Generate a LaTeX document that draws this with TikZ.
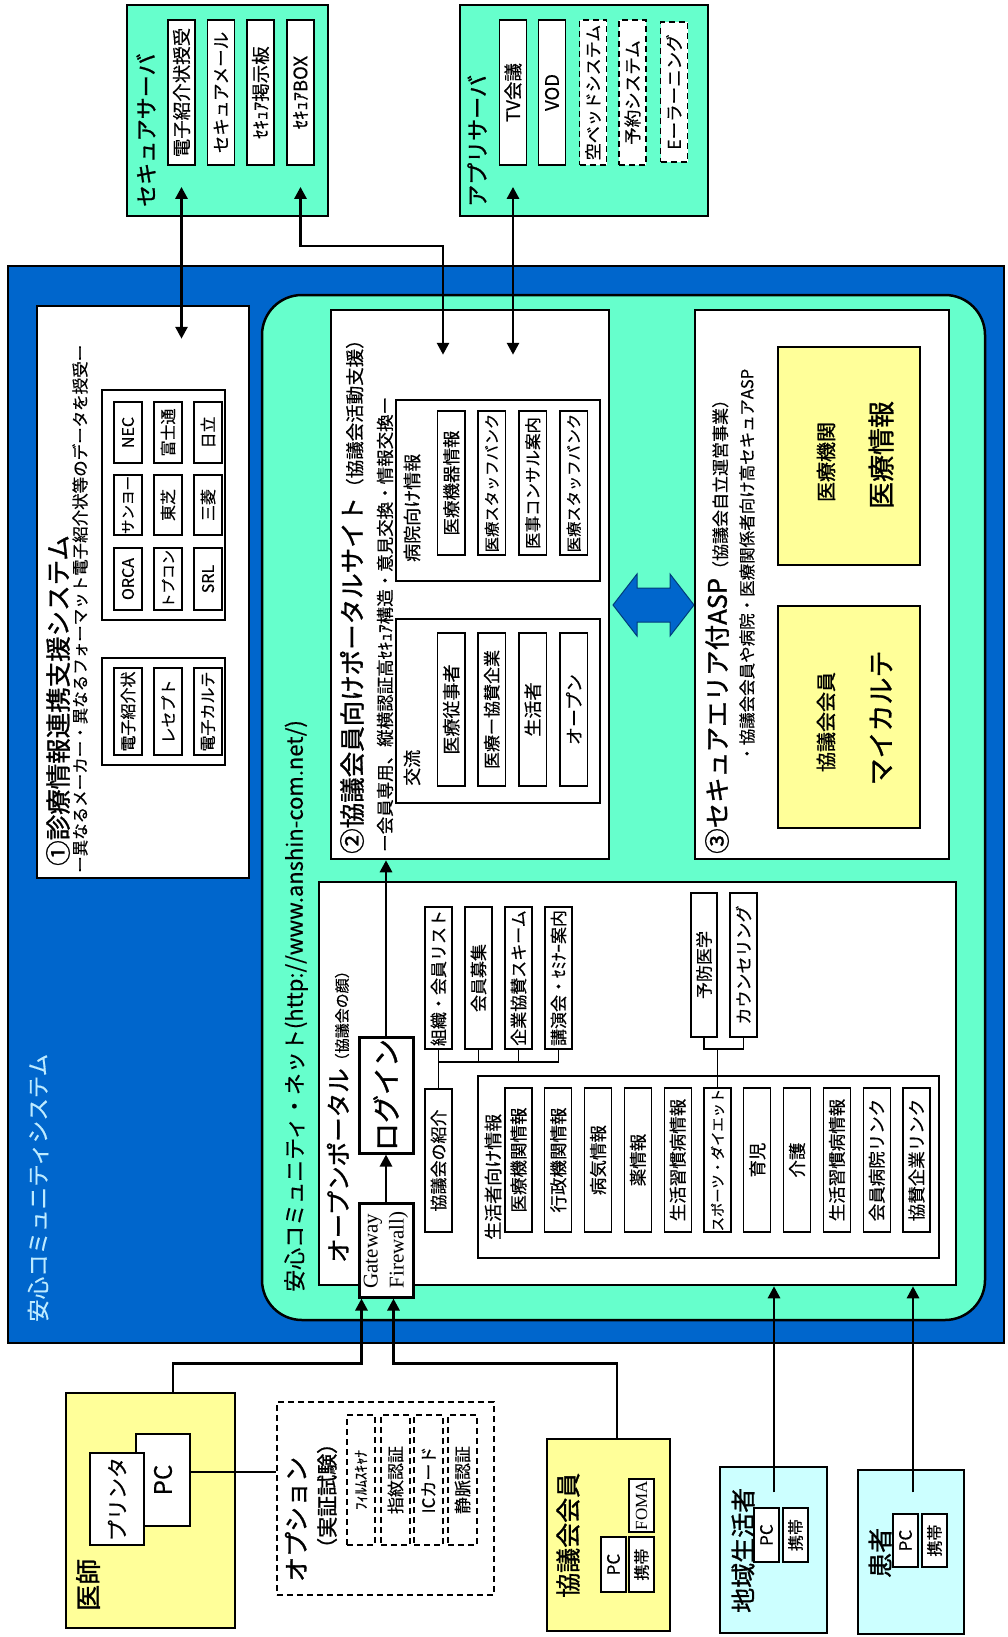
\documentclass[tikz,border=0pt]{standalone}
\usepackage{fontspec}
\setmainfont{Noto Sans CJK JP}[FakeBold=0.4]
\newfontfamily\hvy{Noto Sans CJK JP}[FakeBold=1.2]
\newfontfamily\serifrm{Liberation Serif}
\usetikzlibrary{arrows.meta,calc,fit}
\definecolor{aqua}{RGB}{102,255,204}
\definecolor{sysblue}{RGB}{0,102,204}
\definecolor{ylw}{RGB}{255,255,153}
\definecolor{lcyan}{RGB}{204,255,255}
\definecolor{titlecol}{RGB}{190,235,255}
\newcommand{\fs}[1]{\fontsize{#1}{#1}\selectfont}
% box node + rotated text node at its centre
\newcommand{\bx}[5]{\node[#1,fit={#3}] (#2) {}; \node[rotate=90,inner sep=0pt,font=\fs{#4}] (#2t) at (#2.center) {#5};}
\tikzset{
  bigbox/.style={draw=black,line width=2.5pt,inner sep=0pt},
  ibox/.style={draw=black,line width=1.8pt,fill=white,inner sep=0pt},
  tbox/.style={draw=black,line width=1.3pt,fill=white,inner sep=0pt},
  dbox/.style={draw=black,line width=1.5pt,dash pattern=on 6pt off 4pt,fill=white,inner sep=0pt},
  lbl/.style={inner sep=0pt,rotate=90,anchor=west},
  rtxt/.style={inner sep=0pt,rotate=90},
  arr/.style={line width=2.8pt,-{Triangle[length=12pt,width=12pt]}},
  darr/.style={line width=2.8pt,{Triangle[length=12pt,width=12pt]}-{Triangle[length=12pt,width=12pt]}},
  conn/.style={line width=1.3pt},
}
\begin{document}
\begin{tikzpicture}[x=1pt,y=-1pt]
\useasboundingbox (0,0) rectangle (1007,1637);

% ---------- servers ----------
\node[bigbox,fill=aqua,fit={(127,5)(328,216)}] (sec) {};
\node[lbl,font=\hvy\fs{22}] (secl) at (146,207) {セキュアサーバ};
\bx{ibox}{s1}{(168,20)(195,165)}{18.5}{電子紹介状授受}
\bx{ibox}{s2}{(207.5,20)(234.5,165)}{17.5}{セキュアメール}
\bx{ibox}{s3}{(247,20)(274,165)}{18.5}{ｾｷｭｱ掲示板}
\bx{ibox}{s4}{(287,20)(314,165)}{18.5}{ｾｷｭｱBOX}

\node[bigbox,fill=aqua,fit={(460,5)(708,216)}] (app) {};
\node[lbl,font=\hvy\fs{22}] (appl) at (477,207) {アプリサーバ};
\bx{ibox}{p1}{(499.5,20)(526.5,165)}{18.5}{TV会議}
\bx{ibox}{p2}{(538.5,20)(565.5,165)}{18.5}{VOD}
\bx{dbox}{p3}{(579.5,20)(606.5,165)}{17}{空ベッドシステム}
\bx{dbox}{p4}{(619,20)(646,165)}{17.5}{予約システム}
\bx{dbox}{p5}{(660.5,22)(687.5,162)}{17.5}{Eーラーニング}

% ---------- system ----------
\node[bigbox,fill=sysblue,fit={(8,266)(1004,1343)}] (sys) {};
\node[lbl,font=\fs{22.5},text=titlecol] (sysl) at (38,1322) {安心コミュニティシステム};

% box 1
\node[bigbox,fill=white,fit={(37,306)(249,878)}] (b1) {};
\node[lbl,font=\hvy\fs{25.5}] (b1t) at (58,866) {①診療情報連携支援システム};
\node[lbl,font=\fs{16.5}] (b1s) at (80,873) {ー異なるメーカー・異なるフォーマット電子紹介状等のデータを授受ー};
\node[tbox,fit={(102,658)(225,765)}] (ga) {};
\bx{ibox}{a1}{(114,668)(142,755)}{16}{電子紹介状}
\bx{ibox}{a2}{(154,668)(182,755)}{16}{レセプト}
\bx{ibox}{a3}{(194,668)(222,755)}{16}{電子カルテ}
\node[tbox,fit={(102,390)(225,620)}] (gb) {};
\bx{ibox}{m1}{(114,548)(142,610)}{16}{ORCA}
\bx{ibox}{m2}{(114,475)(142,535)}{14.5}{サンヨー}
\bx{ibox}{m3}{(114,402)(142,463)}{16}{NEC}
\bx{ibox}{m4}{(154,548)(182,610)}{14.5}{トプコン}
\bx{ibox}{m5}{(154,475)(182,535)}{16}{東芝}
\bx{ibox}{m6}{(154,402)(182,463)}{16}{富士通}
\bx{ibox}{m7}{(194,548)(222,610)}{16}{SRL}
\bx{ibox}{m8}{(194,475)(222,535)}{16}{三菱}
\bx{ibox}{m9}{(194,402)(222,463)}{16}{日立}

% green net
\node[bigbox,fill=aqua,rounded corners=40pt,fit={(262,295)(985,1320)}] (net) {};
\node[lbl,font=\fs{22}] (netl) at (296,1292) {安心コミュニティ・ネット(http://www.anshin-com.net/)};

% box 2
\node[bigbox,fill=white,fit={(331,310)(609,859)}] (b2) {};
\node[lbl] (b2t) at (352,854) {{\hvy\fs{25.5}②協議会員向けポータルサイト}{\fs{18.5}（協議会活動支援）}};
\node[lbl,font=\fs{17.5}] (b2s) at (385,852) {ー会員専用、縦横認証高ｾｷｭｱ構造・意見交換・情報交換ー};
\node[tbox,line width=1.5pt,fit={(396,619)(600,803)}] (kr) {};
\node[lbl,font=\fs{18}] (krl) at (412,786) {交流};
\bx{ibox}{k1}{(437.5,633)(465,786)}{18}{医療従事者}
\bx{ibox}{k2}{(478,633)(505.5,786)}{17}{医療ー協賛企業}
\bx{ibox}{k3}{(519,633)(546.5,786)}{18}{生活者}
\bx{ibox}{k4}{(560,633)(587.5,786)}{18}{オープン}
\node[tbox,line width=1.5pt,fit={(396,400)(600,581)}] (hb) {};
\node[lbl,font=\fs{18}] (hbl) at (412,562) {病院向け情報};
\bx{ibox}{h1}{(437.5,411)(465,555)}{17.5}{医療機器情報}
\bx{ibox}{h2}{(478,411)(505.5,555)}{15.3}{医療スタッフバンク}
\bx{ibox}{h3}{(519,411)(546.5,555)}{16.5}{医事コンサル案内}
\bx{ibox}{h4}{(560,411)(587.5,555)}{15.3}{医療スタッフバンク}

% big blue double arrow
\filldraw[fill=sysblue,draw=sysblue!60!black,line width=1pt] (613,605) -- (637,574) -- (637,588) -- (670,588) -- (670,574) -- (694,605) -- (670,636) -- (670,622) -- (637,622) -- (637,636) -- cycle;

% box 3
\node[bigbox,fill=white,fit={(695,310)(949,859)}] (b3) {};
\node[lbl] (b3t) at (717,854) {{\hvy\fs{25.5}③セキュアエリア付ASP}{\fs{17}（協議会自立運営事業）}};
\node[lbl,font=\fs{16.5}] (b3s) at (747,762) {・協議会会員や病院・医療関係者向け高セキュアASP};
\node[bigbox,fill=ylw,fit={(778,606)(920,828)}] (y1) {};
\node[rtxt,font=\hvy\fs{20}] (y1a) at (826,722) {協議会会員};
\node[rtxt,font=\hvy\fs{27}] (y1b) at (881,718) {マイカルテ};
\node[bigbox,fill=ylw,fit={(778,347)(920,565)}] (y2) {};
\node[rtxt,font=\hvy\fs{20}] (y2a) at (826,462) {医療機関};
\node[rtxt,font=\hvy\fs{27}] (y2b) at (881,455) {医療情報};

% open portal
\node[bigbox,fill=white,fit={(319,882)(956,1285)}] (op) {};
\node[lbl] (opl) at (338,1263) {{\hvy\fs{24.5}オープンポータル}{\fs{15}（協議会の顔）}};
\node[bigbox,line width=3pt,fill=white,fit={(359,1203)(413,1297)}] (gw) {};
\node[rtxt,align=left,font=\serifrm\fontsize{21}{26}\selectfont] (gwt) at (gw.center) {Gateway\\Firewall)};
\node[bigbox,line width=3pt,fill=white,fit={(359,1037)(413,1153)}] (login) {};
\node[rtxt,font=\hvy\fs{28}] (logint) at (login.center) {ログイン};
\bx{tbox}{intro}{(425,1089)(452,1232)}{17}{協議会の紹介}
\bx{tbox}{o1}{(425,907)(452,1049)}{17}{組織・会員リスト}
\bx{tbox}{o2}{(465,907)(492,1049)}{17}{会員募集}
\bx{tbox}{o3}{(505,907)(532,1049)}{17}{企業協賛スキーム}
\bx{tbox}{o4}{(545,907)(572,1049)}{17}{講演会・ｾﾐﾅｰ案内}
\bx{tbox}{v1}{(691,893)(717,1037)}{17}{予防医学}
\bx{tbox}{v2}{(730,893)(757,1037)}{17}{カウンセリング}
\node[tbox,fill=none,fit={(478,1076)(939,1258)}] (life) {};
\node[lbl,font=\fs{18}] (lifel) at (493,1240) {生活者向け情報};
\foreach \i/\t/\f in {0/医療機関情報/17.5,1/行政機関情報/17.5,2/病気情報/17.5,3/薬情報/17.5,4/生活習慣病情報/17.5,5/スポーツ・ダイエット/14.3,6/育児/17.5,7/介護/17.5,8/生活習慣病情報/17.5,9/会員病院リンク/17.5,10/協賛企業リンク/17.5}{
  \node[tbox,minimum width=27pt,minimum height=144pt] (i\i) at ({518.5+39.8*\i},1160) {};
  \node[rtxt,font=\fs{\f}] (it\i) at (i\i.center) {\t};
}
\coordinate (bus) at (0,1062);
\draw[conn] (o1.south) -- (o1.south |- bus) -- (o4.south |- bus) -- (o4.south);
\draw[conn] (o2.south) -- (o2.south |- bus);
\draw[conn] (o3.south) -- (o3.south |- bus);
\draw[conn] (intro.north) -- (intro.north |- bus);
\coordinate (bus2) at (0,1049);
\draw[conn] (v1.south) -- (v1.south |- bus2) -- (v2.south |- bus2) -- (v2.south);
\draw[conn] (i5.north |- bus2) -- (i5.north);

% ---------- outside actors ----------
\node[bigbox,fill=ylw,fit={(66,1393)(235,1628)}] (ishi) {};
\node[lbl,font=\hvy\fs{26}] (ishil) at (88,1611) {医師};
\bx{bigbox,fill=white}{dpc}{(136,1434)(190,1526)}{24}{PC}
\bx{bigbox,fill=white}{prn}{(90,1453)(144,1545)}{21}{プリンタ}

\node[dbox,line width=1.3pt,fill=none,fit={(277,1402)(494,1595)}] (opt) {};
\node[lbl,font=\hvy\fs{25}] (optl) at (296,1582) {オプション};
\node[lbl,font=\hvy\fs{21}] (opt2) at (327,1559) {（実証試験）};
\bx{dbox,fill=none}{q1}{(347,1415)(375,1545)}{15}{ﾌｨﾙﾑｽｷｬﾅ}
\bx{dbox,fill=none}{q2}{(381,1415)(410,1545)}{17}{指紋認証}
\bx{dbox,fill=none}{q3}{(414,1415)(443,1545)}{17}{ICカード}
\bx{dbox,fill=none}{q4}{(448,1415)(477,1545)}{17}{静脈認証}
\draw[conn] ($(dpc.east)+(0,-8)$) -- ($(dpc.east -| opt.west)+(0,-8)$);

\node[bigbox,fill=ylw,fit={(547,1439)(670,1631)}] (kk) {};
\node[lbl,font=\hvy\fs{25}] (kkl) at (568,1598) {協議会会員};
\bx{tbox}{kpc}{(601,1537)(626,1592)}{17}{PC}
\bx{tbox}{kmb}{(629,1537)(654,1592)}{16}{携帯}
\node[tbox,fit={(629,1479)(654,1532)}] (kfo) {};
\node[rtxt,font=\serifrm\fs{17}] (kfot) at (kfo.center) {FOMA};

\node[bigbox,fill=lcyan,fit={(720,1467)(827,1633)}] (cz) {};
\node[lbl,font=\hvy\fs{25}] (czl) at (743,1613) {地域生活者};
\bx{tbox}{cpc}{(754,1508)(779,1562)}{17}{PC}
\bx{tbox}{cmb}{(783,1508)(808,1562)}{16}{携帯}

\node[bigbox,fill=lcyan,fit={(858,1470)(964,1634)}] (pt) {};
\node[lbl,font=\hvy\fs{25}] (ptl) at (880,1578) {患者};
\bx{tbox}{ppc}{(893,1514)(918,1567)}{17}{PC}
\bx{tbox}{pmb}{(922,1514)(947,1567)}{16}{携帯}

% ---------- connectors ----------
\draw[darr] ($(s1.south)+(0,21)$) -- ($(b1.north -| s1.south)+(0,34)$);
\coordinate (bend) at (443,246);
\draw[darr] ($(s4.south)+(0,21)$) |- (bend) -- ($(bend |- b2.north)+(0,46)$);
\draw[darr] ($(p1.south)+(0,21)$) -- ($(b2.north -| p1.south)+(0,46)$);
\draw[arr] (gw.north) -- (login.south);
\draw[arr] (login.north) -- (login.north |- b2.south);
\draw[arr] ($(ishi.north)+(22.5,0)$) |- ($(gw.south west)+(4,65)$) -- ($(gw.south west)+(4,0)$);
\draw[arr] ($(kk.north)+(8.5,0)$) |- ($(gw.south west)+(36,65)$) -- ($(gw.south west)+(36,0)$);
\draw[arr] ($(cpc.north)+(7.5,-15)$) -- ($(cpc.north |- op.south)+(7.5,0)$);
\draw[arr] ($(ppc.north)+(7.5,-21)$) -- ($(ppc.north |- op.south)+(7.5,0)$);
\end{tikzpicture}
\end{document}
